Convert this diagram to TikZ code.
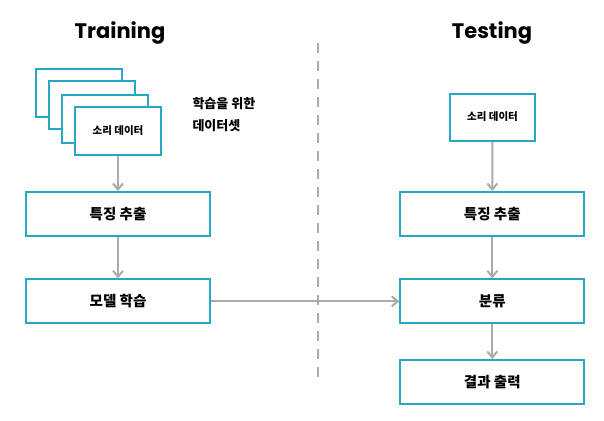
\documentclass[tikz,border=0pt]{standalone}
\usepackage{fontspec}
\usetikzlibrary{arrows.meta}
\newfontfamily\kr{Noto Sans CJK KR}
\newfontfamily\ttl{Poppins}
\definecolor{teal}{RGB}{38,168,196}
\definecolor{lgrey}{RGB}{170,170,170}
\tikzset{
  box/.style={draw=teal, line width=2pt, fill=white, minimum width=184pt, minimum height=44pt, inner sep=0pt, font=\kr\bfseries\fontsize{14.5}{16}\selectfont},
  sbox/.style={draw=teal, line width=2pt, fill=white, minimum width=86pt, minimum height=48pt, inner sep=0pt, font=\kr\bfseries\fontsize{10.5}{12}\selectfont},
  flow/.style={draw=lgrey, line width=2pt, -{Straight Barb[length=6pt,width=10pt,line width=2pt]}},
  title/.style={font=\ttl\bfseries\fontsize{21}{24}\selectfont}
}
\begin{document}
\begin{tikzpicture}[x=1pt,y=-1pt]
\useasboundingbox (0,0) rectangle (604,420);
% titles
\node[title] (ttrain) at (120,33) {Training};
\node[title] (ttest) at (492,33) {Testing};
% dashed separator
\coordinate (d1) at (317.7,43);
\coordinate (d2) at (317.7,383);
\draw[lgrey, line width=2pt, dash pattern=on 10pt off 8pt] (d1) -- (d2);
% stacked sound data (training)
\node[sbox] (s1) at (79,92.5) {};
\node[sbox] (s2) at (92,105) {};
\node[sbox] (s3) at (105,118.5) {};
\node[sbox] (s4) at (118,131) {소리 데이터};
\node[anchor=west, align=left, font=\kr\bfseries\fontsize{13}{22}\selectfont] (dlab) at (189,115) {학습을 위한\\데이터셋};
% left column
\node[box] (lf) at (118,214) {특징 추출};
\node[box] (lm) at (118,301.3) {모델 학습};
% right column
\node[sbox, minimum width=85pt, minimum height=47pt] (rs) at (492.5,117) {소리 데이터};
\node[box] (rf) at (492.3,214) {특징 추출};
\node[box] (rc) at (492.3,301.3) {분류};
\node[box] (ro) at (492.3,382) {결과 출력};
% arrows
\draw[flow] (s4) -- (lf);
\draw[flow] (lf) -- (lm);
\draw[flow] (lm) -- (rc);
\draw[flow] (rs) -- (rf);
\draw[flow] (rf) -- (rc);
\draw[flow] (rc) -- (ro);
\end{tikzpicture}
\end{document}
